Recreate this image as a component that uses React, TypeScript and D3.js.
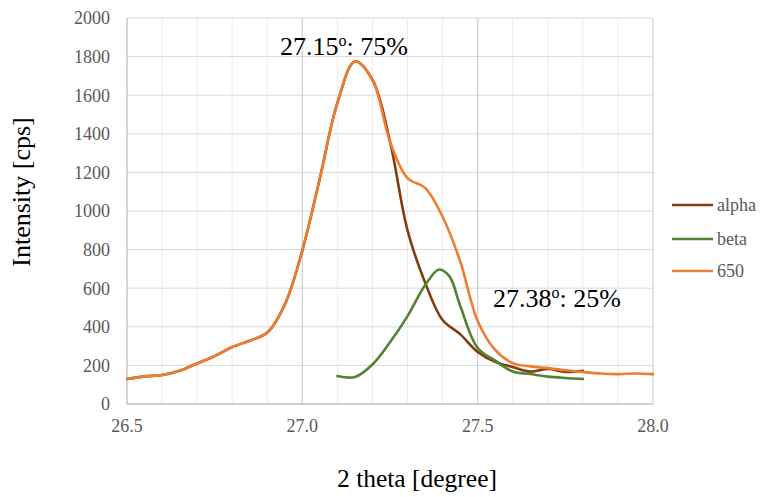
import React from "react";
import * as d3 from "d3";

// 2 theta values for each series
const alphaX = [26.5, 26.55, 26.6, 26.65, 26.7, 26.75, 26.8, 26.85, 26.9, 26.95, 27.0, 27.05, 27.1, 27.15, 27.2, 27.25, 27.3, 27.35, 27.4, 27.45, 27.5, 27.55, 27.6, 27.65, 27.7, 27.75, 27.8];
const alphaY = [130, 143, 150, 172, 210, 248, 295, 328, 370, 515, 795, 1170, 1560, 1775, 1680, 1360, 900, 630, 435, 362, 270, 218, 192, 168, 181, 166, 172];

const betaX = [27.1, 27.15, 27.2, 27.25, 27.3, 27.35, 27.39, 27.42, 27.45, 27.5, 27.55, 27.6, 27.65, 27.7, 27.75, 27.8];
const betaY = [145, 140, 205, 320, 455, 615, 697, 660, 510, 290, 225, 168, 155, 142, 135, 130];

const s650X = [26.5, 26.55, 26.6, 26.65, 26.7, 26.75, 26.8, 26.85, 26.9, 26.95, 27.0, 27.05, 27.1, 27.15, 27.2, 27.25, 27.3, 27.35, 27.4, 27.45, 27.5, 27.55, 27.6, 27.65, 27.7, 27.75, 27.8, 27.85, 27.9, 27.95, 28.0];
const s650Y = [130, 143, 150, 172, 210, 248, 295, 328, 370, 515, 795, 1170, 1560, 1775, 1680, 1360, 1170, 1120, 970, 740, 430, 280, 212, 195, 186, 175, 166, 158, 155, 158, 155];

const seriesNames = ["alpha", "beta", "650"];
const seriesColors = ["#843c0c", "#548235", "#ed7d31"];

const xTicks = [26.5, 27.0, 27.5, 28.0];
const yTicks = [0, 200, 400, 600, 800, 1000, 1200, 1400, 1600, 1800, 2000];

const W = 762;
const H = 497;
const plot = { left: 127, right: 653, top: 18, bottom: 404 };

const App = () => {
  const x = d3.scaleLinear().domain([26.5, 28.0]).range([plot.left, plot.right]);
  const y = d3.scaleLinear().domain([0, 2000]).range([plot.bottom, plot.top]);

  const line = d3
    .line<[number, number]>()
    .x((d) => x(d[0]))
    .y((d) => y(d[1]))
    .curve(d3.curveCatmullRom.alpha(0.5));

  const series = [
    alphaX.map((v, i) => [v, alphaY[i]] as [number, number]),
    betaX.map((v, i) => [v, betaY[i]] as [number, number]),
    s650X.map((v, i) => [v, s650Y[i]] as [number, number]),
  ];

  // minor verticals every 0.1
  const minorX = d3.range(26.6, 28.0, 0.1).filter((v) => Math.abs(v - 27) > 0.01 && Math.abs(v - 27.5) > 0.01);

  return (
    <svg
      width={W}
      height={H}
      style={{ position: "absolute", left: 0, top: 0, background: "#fff", fontFamily: '"Liberation Serif", "Times New Roman", Times, serif' }}
    >
      {/* grid */}
      {minorX.map((v, i) => (
        <line key={"mx" + i} x1={x(v)} x2={x(v)} y1={plot.top} y2={plot.bottom} stroke="#ececec" strokeWidth={1} />
      ))}
      {yTicks.slice(1).map((v) => (
        <line key={"gy" + v} x1={plot.left} x2={plot.right} y1={y(v)} y2={y(v)} stroke="#d9d9d9" strokeWidth={1} />
      ))}
      {[27.0, 27.5, 28.0].map((v) => (
        <line key={"gx" + v} x1={x(v)} x2={x(v)} y1={plot.top} y2={plot.bottom} stroke="#cfcfcf" strokeWidth={1.2} />
      ))}
      {/* axes */}
      <line x1={plot.left} x2={plot.left} y1={plot.top} y2={plot.bottom} stroke="#bfbfbf" strokeWidth={1.3} />
      <line x1={plot.left} x2={plot.right} y1={plot.bottom} y2={plot.bottom} stroke="#bfbfbf" strokeWidth={1.3} />

      {/* tick labels */}
      {yTicks.map((v) => (
        <text key={"ty" + v} x={110} y={y(v)} dy="0.35em" textAnchor="end" fontSize={18} fill="#595959">
          {v}
        </text>
      ))}
      {xTicks.map((v) => (
        <text key={"tx" + v} x={x(v)} y={432} textAnchor="middle" fontSize={18} fill="#595959">
          {v.toFixed(1)}
        </text>
      ))}

      {/* series */}
      {series.map((s, i) => (
        <path key={seriesNames[i]} d={line(s) || ""} fill="none" stroke={seriesColors[i]} strokeWidth={2.6} strokeLinejoin="round" strokeLinecap="round" />
      ))}

      {/* legend */}
      {seriesNames.map((n, i) => {
        const ly = [205, 239, 271][i];
        return (
          <g key={"lg" + n}>
            <line x1={672} x2={713} y1={ly} y2={ly} stroke={seriesColors[i]} strokeWidth={2.6} />
            <text x={717} y={ly} dy="0.35em" fontSize={18} fill="#595959">
              {n}
            </text>
          </g>
        );
      })}

      {/* annotations */}
      <text x={280} y={55} fontSize={26} fill="#000">
        27.15<tspan fontSize={16} dy={-9}>o</tspan>
        <tspan dy={9}>: 75%</tspan>
      </text>
      <text x={493} y={307} fontSize={26} fill="#000">
        27.38<tspan fontSize={16} dy={-9}>o</tspan>
        <tspan dy={9}>: 25%</tspan>
      </text>

      {/* axis titles */}
      <text transform="translate(30,192) rotate(-90)" textAnchor="middle" fontSize={26} fill="#000">
        Intensity [cps]
      </text>
      <text x={417} y={487} textAnchor="middle" fontSize={25.5} fill="#000">
        2 theta [degree]
      </text>
    </svg>
  );
};

export default App;
